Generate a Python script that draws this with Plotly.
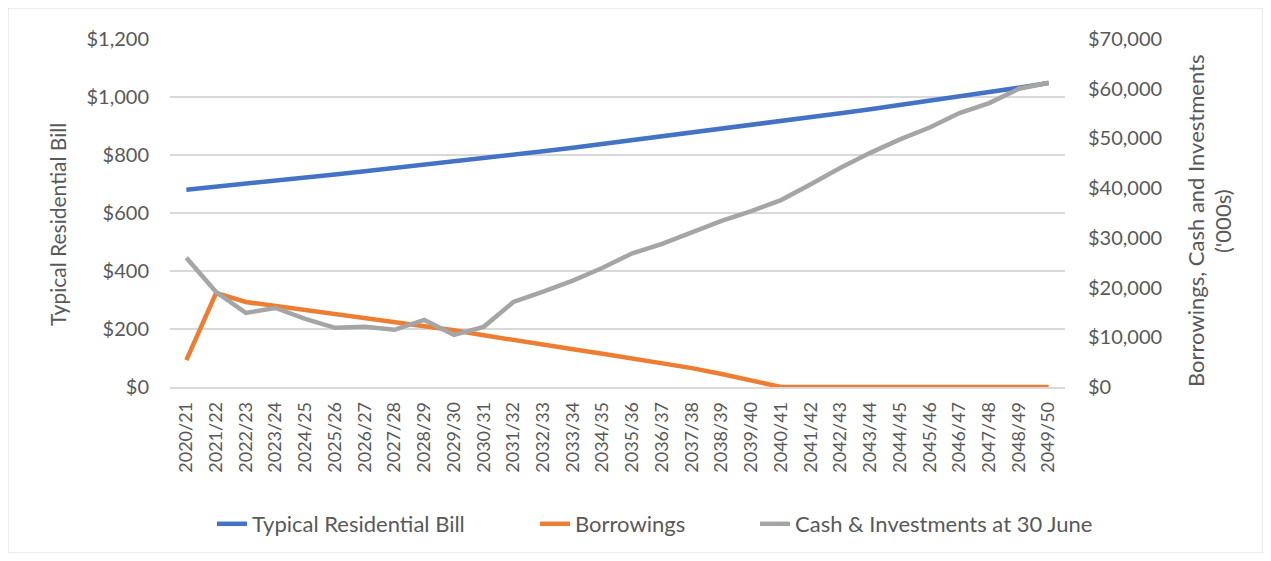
import plotly.graph_objects as go

years = ["2020/21","2021/22","2022/23","2023/24","2024/25","2025/26","2026/27","2027/28","2028/29","2029/30",
         "2030/31","2031/32","2032/33","2033/34","2034/35","2035/36","2036/37","2037/38","2038/39","2039/40",
         "2040/41","2041/42","2042/43","2043/44","2044/45","2045/46","2046/47","2047/48","2048/49","2049/50"]

bill = [680, 690, 700, 711, 722, 733, 744, 755, 766, 778,
        789, 801, 813, 825, 838, 850, 863, 876, 889, 902,
        916, 930, 944, 958, 972, 987, 1002, 1017, 1032, 1048]

borrowings = [5400, 18900, 17100, 16300, 15500, 14700, 13900, 13100, 12300, 11400,
              10400, 9400, 8500, 7600, 6700, 5800, 4900, 3800, 2600, 1300,
              0, 0, 0, 0, 0, 0, 0, 0, 0, 0]

cash = [26000, 19100, 14900, 15900, 13700, 11900, 12100, 11500, 13500, 10500,
        12100, 17100, 19200, 21400, 24000, 26900, 28800, 31200, 33400, 35400,
        37600, 40800, 44100, 47100, 49800, 52200, 55100, 57100, 60000, 61200]

left_title = "Typical Residential Bill"
right_title_1 = "Borrowings, Cash and Investments"
right_title_2 = "('000s)"

blue = "#4472C4"
orange = "#ED7D31"
gray = "#A5A5A5"
txt = "#595959"
grid = "#D9D9D9"
font = "Lato"

# page body has an 8px margin; work in window coordinates
OFF = 8
W, H = 1271 - 2 * OFF, 561 - 2 * OFF
L = 170 - OFF
T = 39 - OFF
R = (1271 - OFF) - 1065
B = (561 - OFF) - 387
pw = W - L - R
ph = H - T - B

def px(x):
    return (x - OFF - L) / pw

def py(y):
    return (H - B - (y - OFF)) / ph

fig = go.Figure()
fig.add_trace(go.Scatter(x=years, y=bill, name="Typical Residential Bill", mode="lines",
                         line=dict(color=blue, width=4.5), legend="legend"))
fig.add_trace(go.Scatter(x=years, y=borrowings, name="Borrowings", mode="lines",
                         line=dict(color=orange, width=4.5), yaxis="y2", legend="legend2"))
fig.add_trace(go.Scatter(x=years, y=cash, name="Cash & Investments at 30 June", mode="lines",
                         line=dict(color=gray, width=4.5), yaxis="y2", legend="legend3"))

leg_common = dict(orientation="h", yanchor="middle", xanchor="left", y=py(524),
                  font=dict(size=22, color=txt), bgcolor="rgba(0,0,0,0)",
                  itemwidth=30)

fig.update_layout(
    width=W, height=H,
    margin=dict(l=L, r=R, t=T, b=B, autoexpand=False),
    paper_bgcolor="white", plot_bgcolor="white",
    font=dict(family=font, color=txt, size=19),
    showlegend=True,
    legend=dict(x=px(212), **leg_common),
    legend2=dict(x=px(535), **leg_common),
    legend3=dict(x=px(755), **leg_common),
    xaxis=dict(type="category", tickangle=-90, tickfont=dict(size=18, color=txt),
               showgrid=False, showline=True, linecolor=grid, linewidth=1.5,
               range=[-0.55, 29.55], ticks="", ticklabelstandoff=6, automargin=False),
    yaxis=dict(range=[0, 1200], dtick=200, tickprefix="$", tickformat=",",
               showgrid=True, gridcolor=grid, gridwidth=1.5, zeroline=False,
               tickfont=dict(size=20, color=txt), ticklabelstandoff=20, automargin=False),
    yaxis2=dict(range=[0, 70000], dtick=10000, tickprefix="$", tickformat=",",
                overlaying="y", side="right", showgrid=False, zeroline=False,
                tickfont=dict(size=20, color=txt), ticklabelstandoff=22, automargin=False),
    annotations=[
        dict(text=left_title, xref="paper", yref="paper", x=px(57), y=py(225),
             textangle=-90, showarrow=False, font=dict(size=21, color=txt),
             xanchor="center", yanchor="middle"),
        dict(text=right_title_1, xref="paper", yref="paper", x=px(1195), y=py(221),
             textangle=-90, showarrow=False, font=dict(size=22, color=txt),
             xanchor="center", yanchor="middle"),
        dict(text=right_title_2, xref="paper", yref="paper", x=px(1222), y=py(221),
             textangle=-90, showarrow=False, font=dict(size=22, color=txt),
             xanchor="center", yanchor="middle"),
    ],
    shapes=[dict(type="rect", xref="paper", yref="paper",
                 x0=px(8), x1=px(1263), y0=py(553), y1=py(8),
                 line=dict(color=grid, width=1), fillcolor="rgba(0,0,0,0)", layer="below")],
)

fig.write_html("out.html")
